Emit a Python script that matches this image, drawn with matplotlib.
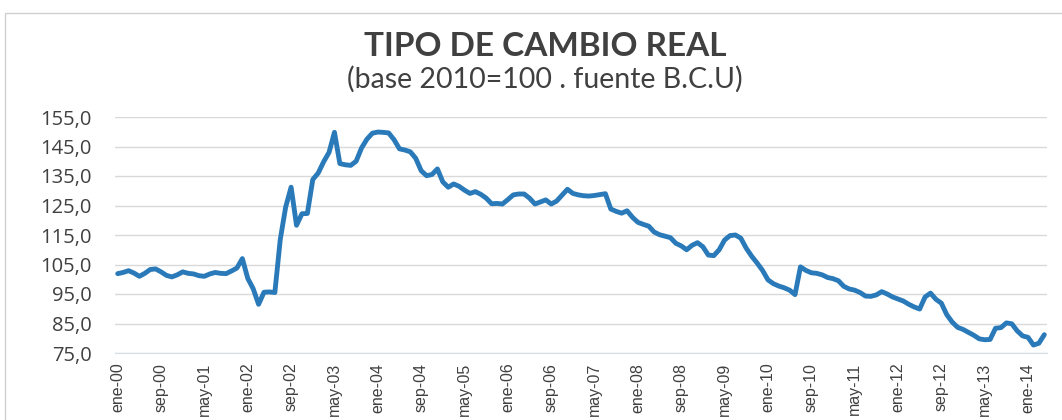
import numpy as np
import matplotlib
matplotlib.use('Agg')
import matplotlib.pyplot as plt
from matplotlib.patches import Rectangle
from matplotlib import font_manager

# Monthly real exchange rate index, ene-00 .. abr-14
tcr2000 = [101.9, 102.3, 102.9, 102.1, 101.0, 102.0, 103.3, 103.5, 102.5, 101.3, 100.8, 101.5]
tcr2001 = [102.5, 102.0, 101.8, 101.2, 101.0, 101.8, 102.3, 102.0, 101.9, 102.8, 103.8, 107.0]
tcr2002 = [100.3, 96.8, 91.5, 95.6, 95.7, 95.5, 113.5, 124.5, 131.2, 118.3, 122.2, 122.3]
tcr2003 = [133.8, 136.0, 139.8, 143.0, 149.8, 139.2, 138.8, 138.6, 140.0, 144.5, 147.5, 149.5]
tcr2004 = [149.9, 149.8, 149.6, 147.3, 144.2, 143.8, 143.2, 141.0, 136.8, 135.1, 135.5, 137.4]
tcr2005 = [133.0, 131.2, 132.3, 131.5, 130.2, 129.1, 129.7, 128.8, 127.5, 125.6, 125.7, 125.5]
tcr2006 = [127.0, 128.6, 128.9, 128.9, 127.5, 125.5, 126.2, 126.9, 125.5, 126.5, 128.5, 130.5]
tcr2007 = [129.1, 128.6, 128.3, 128.2, 128.4, 128.7, 129.0, 123.8, 123.0, 122.4, 123.2, 121.0]
tcr2008 = [119.3, 118.6, 118.0, 116.0, 115.1, 114.6, 114.1, 112.2, 111.3, 110.0, 111.5, 112.4]
tcr2009 = [111.0, 108.2, 108.0, 110.0, 113.3, 114.8, 115.0, 113.9, 110.5, 107.8, 105.5, 103.0]
tcr2010 = [99.8, 98.5, 97.7, 97.1, 96.3, 94.8, 104.2, 103.0, 102.2, 102.0, 101.5, 100.6]
tcr2011 = [100.2, 99.5, 97.6, 96.7, 96.3, 95.5, 94.3, 94.2, 94.7, 95.8, 95.0, 94.0]
tcr2012 = [93.3, 92.6, 91.5, 90.6, 89.9, 94.0, 95.3, 93.2, 91.9, 88.0, 85.5, 83.7]
tcr2013 = [83.0, 82.0, 81.0, 79.8, 79.5, 79.6, 83.4, 83.6, 85.2, 84.9, 82.5, 80.8]
tcr2014 = [80.3, 77.7, 78.3, 81.2]

tcr = (tcr2000 + tcr2001 + tcr2002 + tcr2003 + tcr2004 + tcr2005 + tcr2006 + tcr2007
       + tcr2008 + tcr2009 + tcr2010 + tcr2011 + tcr2012 + tcr2013 + tcr2014)

meses = ['ene', 'feb', 'mar', 'abr', 'may', 'jun', 'jul', 'ago', 'sep', 'oct', 'nov', 'dic']
etiquetas = ['%s-%02d' % (meses[i % 12], i // 12) for i in range(len(tcr))]
yTicks = [75, 85, 95, 105, 115, 125, 135, 145, 155]

textColor = '#404040'
gridColor = '#D9D9D9'
lineColor = '#2A7AB9'

# narrow font for the date labels if there is one
try:
    font_manager.findfont('Liberation Sans Narrow', fallback_to_default=False)
    xFont, xSize = 'Liberation Sans Narrow', 13
except Exception:
    xFont, xSize = 'Liberation Sans', 11.5

fig = plt.figure(figsize=(10.62, 4.2), dpi=100)
fig.patch.set_facecolor('white')

# outer chart border
fig.patches.append(Rectangle((5 / 1062, -0.1), 1.1, 1.1 - 13 / 420,
                             transform=fig.transFigure, fill=False,
                             edgecolor='#D0D0D0', linewidth=1.0))

ax = fig.add_axes([115 / 1062, 1 - 353 / 420, 932 / 1062, 236 / 420])
x = np.arange(len(tcr))
ax.plot(x, tcr, color=lineColor, linewidth=3.5, solid_joinstyle='round',
        solid_capstyle='round')

ax.set_xlim(-0.5, len(tcr) - 0.5)
ax.set_ylim(75, 155)
ax.set_yticks(yTicks)
ax.yaxis.set_major_formatter(plt.FuncFormatter(lambda v, p: ('%.1f' % v).replace('.', ',')))
for lbl in ax.get_yticklabels():
    lbl.set_family(['Open Sans', 'DejaVu Sans'])
    lbl.set_fontsize(14.5)
    lbl.set_color(textColor)

posTicks = list(range(0, len(tcr), 8))
ax.set_xticks(posTicks)
ax.set_xticklabels([etiquetas[i] for i in posTicks], rotation=90, fontsize=xSize,
                   color=textColor, va='top', ha='center',
                   family=[xFont, 'DejaVu Sans'])

ax.grid(axis='y', color=gridColor, linewidth=1.0)
ax.set_axisbelow(True)
for side in ['top', 'right', 'left']:
    ax.spines[side].set_visible(False)
ax.spines['bottom'].set_color('#D6DCE4')
ax.tick_params(axis='both', length=0)
ax.tick_params(axis='y', pad=17)
ax.tick_params(axis='x', pad=7)

fig.text(545 / 1062, 1 - 46 / 420, 'TIPO DE CAMBIO REAL', ha='center', va='center',
         fontsize=24, fontweight='bold', color='#404040', family=['Lato', 'DejaVu Sans'])
fig.text(545 / 1062, 1 - 79 / 420, '(base 2010=100 . fuente B.C.U)', ha='center', va='center',
         fontsize=20.5, color='#404040', family=['Lato', 'DejaVu Sans'])

fig.savefig('out.png', dpi=100, facecolor='white')
